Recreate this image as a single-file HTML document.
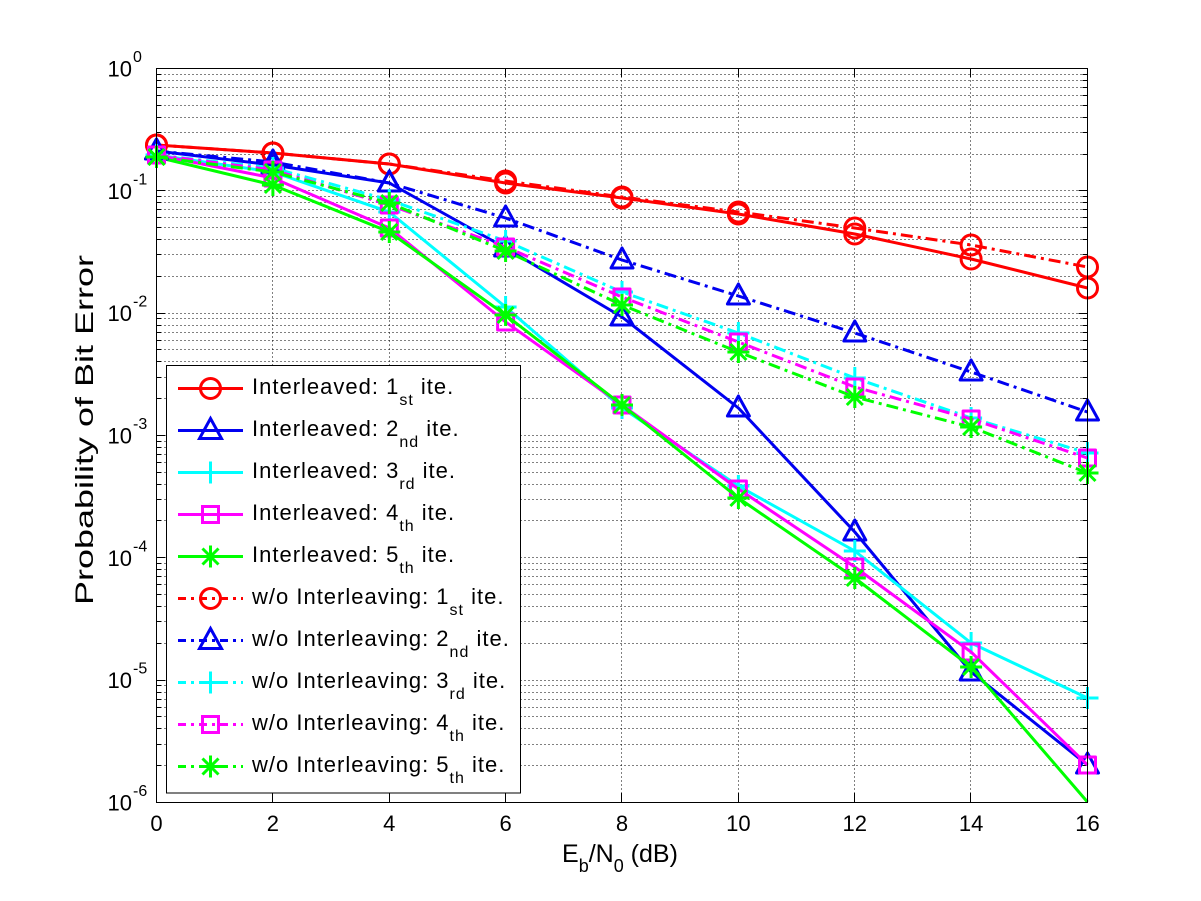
<!DOCTYPE html>
<html><head><meta charset="utf-8"><style>
html,body{margin:0;padding:0;background:#fff;}
svg{display:block;font-family:"Liberation Sans",Arial,sans-serif;}
</style></head><body>
<svg width="1201" height="901" viewBox="0 0 1201 901" xmlns="http://www.w3.org/2000/svg">
<defs>
<circle id="mc" cx="0" cy="0" r="10"/>
<path id="mt" d="M0,-12L11,8L-11,8Z"/>
<rect id="ms" x="-8" y="-8" width="16" height="16"/>
<path id="mp" d="M-11,0H11M0,-11V11"/>
<path id="mx" d="M-11,0H11M0,-11V11M-8,-8L8,8M-8,8L8,-8"/>
</defs>
<rect x="0" y="0" width="1201" height="901" fill="#fff"/>
<!-- grid -->
<g stroke="#000" stroke-width="1" stroke-dasharray="1 3" fill="none">
<path d="M272.5 68.5V802.5M389.5 68.5V802.5M505.5 68.5V802.5M621.5 68.5V802.5M738.5 68.5V802.5M854.5 68.5V802.5M970.5 68.5V802.5"/>
<path d="M156.5 74.5H1087.5M156.5 80.5H1087.5M156.5 87.5H1087.5M156.5 95.5H1087.5M156.5 105.5H1087.5M156.5 117.5H1087.5M156.5 132.5H1087.5M156.5 154.5H1087.5M156.5 190.5H1087.5
M156.5 196.5H1087.5M156.5 202.5H1087.5M156.5 209.5H1087.5M156.5 217.5H1087.5M156.5 227.5H1087.5M156.5 239.5H1087.5M156.5 254.5H1087.5M156.5 276.5H1087.5M156.5 313.5H1087.5
M156.5 318.5H1087.5M156.5 325.5H1087.5M156.5 332.5H1087.5M156.5 340.5H1087.5M156.5 349.5H1087.5M156.5 361.5H1087.5M156.5 377.5H1087.5M156.5 398.5H1087.5M156.5 435.5H1087.5
M156.5 441.5H1087.5M156.5 447.5H1087.5M156.5 454.5H1087.5M156.5 462.5H1087.5M156.5 472.5H1087.5M156.5 484.5H1087.5M156.5 499.5H1087.5M156.5 520.5H1087.5M156.5 557.5H1087.5
M156.5 563.5H1087.5M156.5 569.5H1087.5M156.5 576.5H1087.5M156.5 584.5H1087.5M156.5 594.5H1087.5M156.5 606.5H1087.5M156.5 621.5H1087.5M156.5 643.5H1087.5M156.5 680.5H1087.5
M156.5 685.5H1087.5M156.5 692.5H1087.5M156.5 699.5H1087.5M156.5 707.5H1087.5M156.5 716.5H1087.5M156.5 728.5H1087.5M156.5 744.5H1087.5M156.5 765.5H1087.5"/>
</g>
<!-- ticks -->
<g stroke="#000" stroke-width="1" fill="none">
<path d="M272.5 802.5V793.5M389.5 802.5V793.5M505.5 802.5V793.5M621.5 802.5V793.5M738.5 802.5V793.5M854.5 802.5V793.5M970.5 802.5V793.5
M272.5 68.5V77.5M389.5 68.5V77.5M505.5 68.5V77.5M621.5 68.5V77.5M738.5 68.5V77.5M854.5 68.5V77.5M970.5 68.5V77.5"/>
<path d="M156.5 190.5H165.5M156.5 313.5H165.5M156.5 435.5H165.5M156.5 557.5H165.5M156.5 680.5H165.5
M1087.5 190.5H1078.5M1087.5 313.5H1078.5M1087.5 435.5H1078.5M1087.5 557.5H1078.5M1087.5 680.5H1078.5"/>
<path d="M156.5 74.5h5M156.5 80.5h5M156.5 87.5h5M156.5 95.5h5M156.5 105.5h5M156.5 117.5h5M156.5 132.5h5M156.5 154.5h5
M156.5 196.5h5M156.5 202.5h5M156.5 209.5h5M156.5 217.5h5M156.5 227.5h5M156.5 239.5h5M156.5 254.5h5M156.5 276.5h5
M156.5 318.5h5M156.5 325.5h5M156.5 332.5h5M156.5 340.5h5M156.5 349.5h5M156.5 361.5h5M156.5 377.5h5M156.5 398.5h5
M156.5 441.5h5M156.5 447.5h5M156.5 454.5h5M156.5 462.5h5M156.5 472.5h5M156.5 484.5h5M156.5 499.5h5M156.5 520.5h5
M156.5 563.5h5M156.5 569.5h5M156.5 576.5h5M156.5 584.5h5M156.5 594.5h5M156.5 606.5h5M156.5 621.5h5M156.5 643.5h5
M156.5 685.5h5M156.5 692.5h5M156.5 699.5h5M156.5 707.5h5M156.5 716.5h5M156.5 728.5h5M156.5 744.5h5M156.5 765.5h5
M1087.5 74.5h-5M1087.5 80.5h-5M1087.5 87.5h-5M1087.5 95.5h-5M1087.5 105.5h-5M1087.5 117.5h-5M1087.5 132.5h-5M1087.5 154.5h-5
M1087.5 196.5h-5M1087.5 202.5h-5M1087.5 209.5h-5M1087.5 217.5h-5M1087.5 227.5h-5M1087.5 239.5h-5M1087.5 254.5h-5M1087.5 276.5h-5
M1087.5 318.5h-5M1087.5 325.5h-5M1087.5 332.5h-5M1087.5 340.5h-5M1087.5 349.5h-5M1087.5 361.5h-5M1087.5 377.5h-5M1087.5 398.5h-5
M1087.5 441.5h-5M1087.5 447.5h-5M1087.5 454.5h-5M1087.5 462.5h-5M1087.5 472.5h-5M1087.5 484.5h-5M1087.5 499.5h-5M1087.5 520.5h-5
M1087.5 563.5h-5M1087.5 569.5h-5M1087.5 576.5h-5M1087.5 584.5h-5M1087.5 594.5h-5M1087.5 606.5h-5M1087.5 621.5h-5M1087.5 643.5h-5
M1087.5 685.5h-5M1087.5 692.5h-5M1087.5 699.5h-5M1087.5 707.5h-5M1087.5 716.5h-5M1087.5 728.5h-5M1087.5 744.5h-5M1087.5 765.5h-5"/>
</g>

<!-- series: interleaved -->
<g fill="none" stroke-width="3" stroke-linejoin="round">
<g stroke="#ff0000">
<polyline points="156.5,145 272.9,153 389.3,164 505.6,183 622,198 738.4,214 854.8,234 971.1,259 1087.5,288"/>
<use href="#mc" x="156.5" y="145"/><use href="#mc" x="272.9" y="153"/><use href="#mc" x="389.3" y="164"/><use href="#mc" x="505.6" y="183"/><use href="#mc" x="622" y="198"/><use href="#mc" x="738.4" y="214"/><use href="#mc" x="854.8" y="234"/><use href="#mc" x="971.1" y="259"/><use href="#mc" x="1087.5" y="288"/>
</g>
<g stroke="#0000f0">
<polyline points="156.5,151 272.9,165 389.3,183 505.6,248 622,317 738.4,408 854.8,532 971.1,672 1087.5,765"/>
<use href="#mt" x="156.5" y="151"/><use href="#mt" x="272.9" y="165"/><use href="#mt" x="389.3" y="183"/><use href="#mt" x="505.6" y="248"/><use href="#mt" x="622" y="317"/><use href="#mt" x="738.4" y="408"/><use href="#mt" x="854.8" y="532"/><use href="#mt" x="971.1" y="672"/><use href="#mt" x="1087.5" y="765"/>
</g>
<g stroke="#00ffff">
<polyline points="156.5,155 272.9,172 389.3,212 505.6,307 622,408 738.4,486 854.8,551 971.1,643 1087.5,698"/>
<use href="#mp" x="156.5" y="155"/><use href="#mp" x="272.9" y="172"/><use href="#mp" x="389.3" y="212"/><use href="#mp" x="505.6" y="307"/><use href="#mp" x="622" y="408"/><use href="#mp" x="738.4" y="486"/><use href="#mp" x="854.8" y="551"/><use href="#mp" x="971.1" y="643"/><use href="#mp" x="1087.5" y="698"/>
</g>
<g stroke="#ff00ff">
<polyline points="156.5,155 272.9,178 389.3,228 505.6,322 622,405 738.4,489 854.8,567 971.1,652 1087.5,765"/>
<use href="#ms" x="156.5" y="155"/><use href="#ms" x="272.9" y="178"/><use href="#ms" x="389.3" y="228"/><use href="#ms" x="505.6" y="322"/><use href="#ms" x="622" y="405"/><use href="#ms" x="738.4" y="489"/><use href="#ms" x="854.8" y="567"/><use href="#ms" x="971.1" y="652"/><use href="#ms" x="1087.5" y="765"/>
</g>
<g stroke="#00ff00">
<polyline points="156.5,157 272.9,185 389.3,232 505.6,315 622,405 738.4,498 854.8,578 971.1,667 1087.5,802"/>
<use href="#mx" x="156.5" y="157"/><use href="#mx" x="272.9" y="185"/><use href="#mx" x="389.3" y="232"/><use href="#mx" x="505.6" y="315"/><use href="#mx" x="622" y="405"/><use href="#mx" x="738.4" y="498"/><use href="#mx" x="854.8" y="578"/><use href="#mx" x="971.1" y="667"/>
</g>
</g>

<!-- series: without interleaving -->
<g fill="none" stroke-width="3" stroke-linejoin="round">
<g stroke="#ff0000">
<polyline stroke-dasharray="12 5 3 5" points="156.5,145 272.9,153 389.3,164 505.6,181 622,197 738.4,212 854.8,228 971.1,245 1087.5,267"/>
<use href="#mc" x="156.5" y="145"/><use href="#mc" x="272.9" y="153"/><use href="#mc" x="389.3" y="164"/><use href="#mc" x="505.6" y="181"/><use href="#mc" x="622" y="197"/><use href="#mc" x="738.4" y="212"/><use href="#mc" x="854.8" y="228"/><use href="#mc" x="971.1" y="245"/><use href="#mc" x="1087.5" y="267"/>
</g>
<g stroke="#0000f0">
<polyline stroke-dasharray="12 5 3 5" points="156.5,151 272.9,162 389.3,183 505.6,218 622,260 738.4,296 854.8,333 971.1,372 1087.5,412"/>
<use href="#mt" x="156.5" y="151"/><use href="#mt" x="272.9" y="162"/><use href="#mt" x="389.3" y="183"/><use href="#mt" x="505.6" y="218"/><use href="#mt" x="622" y="260"/><use href="#mt" x="738.4" y="296"/><use href="#mt" x="854.8" y="333"/><use href="#mt" x="971.1" y="372"/><use href="#mt" x="1087.5" y="412"/>
</g>
<g stroke="#00ffff">
<polyline stroke-dasharray="12 5 3 5" points="156.5,155 272.9,168 389.3,200 505.6,241 622,292 738.4,333 854.8,378 971.1,418 1087.5,453"/>
<use href="#mp" x="156.5" y="155"/><use href="#mp" x="272.9" y="168"/><use href="#mp" x="389.3" y="200"/><use href="#mp" x="505.6" y="241"/><use href="#mp" x="622" y="292"/><use href="#mp" x="738.4" y="333"/><use href="#mp" x="854.8" y="378"/><use href="#mp" x="971.1" y="418"/><use href="#mp" x="1087.5" y="453"/>
</g>
<g stroke="#ff00ff">
<polyline stroke-dasharray="12 5 3 5" points="156.5,155 272.9,170 389.3,205 505.6,247 622,297 738.4,342 854.8,387 971.1,419 1087.5,458"/>
<use href="#ms" x="156.5" y="155"/><use href="#ms" x="272.9" y="170"/><use href="#ms" x="389.3" y="205"/><use href="#ms" x="505.6" y="247"/><use href="#ms" x="622" y="297"/><use href="#ms" x="738.4" y="342"/><use href="#ms" x="854.8" y="387"/><use href="#ms" x="971.1" y="419"/><use href="#ms" x="1087.5" y="458"/>
</g>
<g stroke="#00ff00">
<polyline stroke-dasharray="12 5 3 5" points="156.5,157 272.9,172 389.3,203 505.6,251 622,305 738.4,352 854.8,397 971.1,427 1087.5,473"/>
<use href="#mx" x="156.5" y="157"/><use href="#mx" x="272.9" y="172"/><use href="#mx" x="389.3" y="203"/><use href="#mx" x="505.6" y="251"/><use href="#mx" x="622" y="305"/><use href="#mx" x="738.4" y="352"/><use href="#mx" x="854.8" y="397"/><use href="#mx" x="971.1" y="427"/><use href="#mx" x="1087.5" y="473"/>
</g>
</g>

<!-- axes box -->
<rect x="156.5" y="68.5" width="931" height="734" fill="none" stroke="#000" stroke-width="1"/>

<!-- x tick labels -->
<g font-size="22" fill="#000" text-anchor="middle">
<text x="156.5" y="831">0</text>
<text x="272.9" y="831">2</text>
<text x="389.3" y="831">4</text>
<text x="505.6" y="831">6</text>
<text x="622" y="831">8</text>
<text x="738.4" y="831">10</text>
<text x="854.8" y="831">12</text>
<text x="971.1" y="831">14</text>
<text x="1087.5" y="831">16</text>
</g>
<!-- y tick labels -->
<g fill="#000">
<g font-size="22" text-anchor="end">
<text x="132" y="76.5">10</text>
<text x="132" y="198.8">10</text>
<text x="132" y="321.2">10</text>
<text x="132" y="443.5">10</text>
<text x="132" y="565.8">10</text>
<text x="132" y="688.2">10</text>
<text x="132" y="810.5">10</text>
</g>
<g font-size="16">
<text x="133" y="62">0</text>
<text x="133" y="184.3">-1</text>
<text x="133" y="306.7">-2</text>
<text x="133" y="429">-3</text>
<text x="133" y="551.3">-4</text>
<text x="133" y="673.7">-5</text>
<text x="133" y="796">-6</text>
</g>
</g>

<!-- axis labels -->
<text x="562" y="862" font-size="25" fill="#000">E<tspan font-size="18" dy="10">b</tspan><tspan dy="-10">/N</tspan><tspan font-size="18" dy="10">0</tspan><tspan dy="-10"> (dB)</tspan></text>
<text transform="translate(93,430) rotate(-90)" x="0" y="0" font-size="25" fill="#000" text-anchor="middle" textLength="350" lengthAdjust="spacingAndGlyphs">Probability of Bit Error</text>

<!-- legend -->
<rect x="166.5" y="365.5" width="354" height="427.5" fill="#fff" stroke="#000" stroke-width="1"/>
<g fill="none" stroke-width="3">
<g stroke="#ff0000"><path d="M178 388.5H243"/><use href="#mc" x="210.5" y="388.5"/></g>
<g stroke="#0000f0"><path d="M178 430.5H243"/><use href="#mt" x="210.5" y="430.5"/></g>
<g stroke="#00ffff"><path d="M178 472.5H243"/><use href="#mp" x="210.5" y="472.5"/></g>
<g stroke="#ff00ff"><path d="M178 514.5H243"/><use href="#ms" x="210.5" y="514.5"/></g>
<g stroke="#00ff00"><path d="M178 556.5H243"/><use href="#mx" x="210.5" y="556.5"/></g>
<g stroke="#ff0000"><path stroke-dasharray="8 5 3 5" d="M178 598.5H243"/><use href="#mc" x="210.5" y="598.5"/></g>
<g stroke="#0000f0"><path stroke-dasharray="8 5 3 5" d="M178 640.5H243"/><use href="#mt" x="210.5" y="640.5"/></g>
<g stroke="#00ffff"><path stroke-dasharray="8 5 3 5" d="M178 682.5H243"/><use href="#mp" x="210.5" y="682.5"/></g>
<g stroke="#ff00ff"><path stroke-dasharray="8 5 3 5" d="M178 724.5H243"/><use href="#ms" x="210.5" y="724.5"/></g>
<g stroke="#00ff00"><path stroke-dasharray="8 5 3 5" d="M178 766.5H243"/><use href="#mx" x="210.5" y="766.5"/></g>
</g>
<g font-size="22" fill="#000" letter-spacing="1">
<text x="252" y="394">Interleaved: 1<tspan font-size="16" dy="11">st</tspan><tspan dy="-11"> ite.</tspan></text>
<text x="252" y="436">Interleaved: 2<tspan font-size="16" dy="11">nd</tspan><tspan dy="-11"> ite.</tspan></text>
<text x="252" y="478">Interleaved: 3<tspan font-size="16" dy="11">rd</tspan><tspan dy="-11"> ite.</tspan></text>
<text x="252" y="520">Interleaved: 4<tspan font-size="16" dy="11">th</tspan><tspan dy="-11"> ite.</tspan></text>
<text x="252" y="562">Interleaved: 5<tspan font-size="16" dy="11">th</tspan><tspan dy="-11"> ite.</tspan></text>
<text x="252" y="604">w/o Interleaving: 1<tspan font-size="16" dy="11">st</tspan><tspan dy="-11"> ite.</tspan></text>
<text x="252" y="646">w/o Interleaving: 2<tspan font-size="16" dy="11">nd</tspan><tspan dy="-11"> ite.</tspan></text>
<text x="252" y="688">w/o Interleaving: 3<tspan font-size="16" dy="11">rd</tspan><tspan dy="-11"> ite.</tspan></text>
<text x="252" y="730">w/o Interleaving: 4<tspan font-size="16" dy="11">th</tspan><tspan dy="-11"> ite.</tspan></text>
<text x="252" y="772">w/o Interleaving: 5<tspan font-size="16" dy="11">th</tspan><tspan dy="-11"> ite.</tspan></text>
</g>
</svg>
</body></html>
